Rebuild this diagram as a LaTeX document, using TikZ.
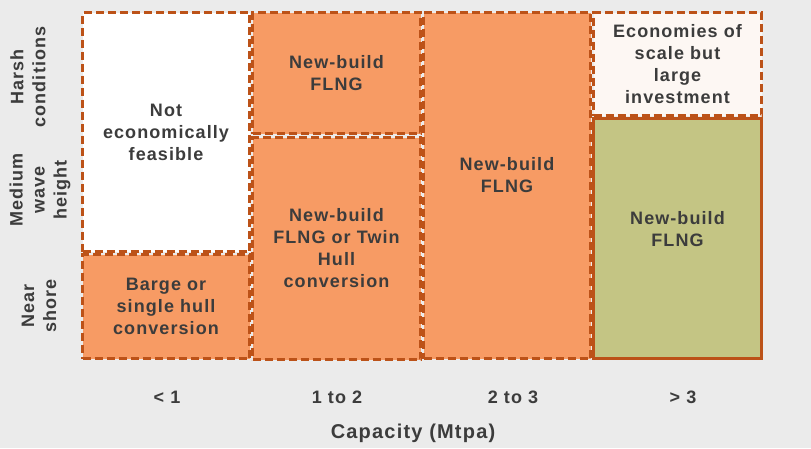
\documentclass[tikz,border=0pt]{standalone}
\usepackage{fontspec}
\setmainfont{Liberation Sans}[LetterSpace=6]
\usetikzlibrary{positioning}

\definecolor{bgGray}{HTML}{EBEBEB}
\definecolor{rimBrown}{HTML}{BC5218}
\definecolor{cellOrange}{HTML}{F79B64}
\definecolor{cellOlive}{HTML}{C4C584}
\definecolor{cellCream}{HTML}{FDF7F3}
\definecolor{inkGray}{HTML}{3C3C3C}

\tikzset{
  cellbox/.style={draw=rimBrown, line width=3.4pt, dash pattern=on 8pt off 4pt,
                  fill=#1, inner sep=0pt, outer sep=0pt, align=center,
                  text=inkGray, font=\fontsize{18}{22}\selectfont\bfseries},
  celltext/.style={text=inkGray, align=center, font=\fontsize{18}{22}\selectfont\bfseries},
  axislabel/.style={text=inkGray, align=center, font=\fontsize{18}{22}\selectfont\bfseries}
}

\begin{document}
\begin{tikzpicture}[x=1pt,y=-1pt]

\useasboundingbox[fill=bgGray] (0,0) rectangle (811,448); % Background

% Cells of the grid
\node[cellbox=white, minimum width=167pt, minimum height=239pt] (notfeasible) at (166,132)
  {Not\\economically\\feasible};
\node[cellbox=cellOrange, minimum width=167pt, minimum height=104pt] (barge) at (166,306.5)
  {Barge or\\single hull\\conversion};
\node[cellbox=cellOrange, minimum width=168pt, minimum height=121pt] (harshnew) at (336.5,73)
  {New-build\\FLNG};
\node[cellbox=cellOrange, minimum width=168pt, minimum height=222pt] (twinhull) at (336.5,248.5)
  {New-build\\FLNG or Twin\\Hull\\conversion};
\node[cellbox=cellOrange, minimum width=167pt, minimum height=346pt,
      label={[celltext, yshift=10pt]center:New-build\\FLNG}] (midnew) at (507,185.5) {};
\node[cellbox=cellCream, minimum width=168pt, minimum height=103pt] (scale) at (677.5,64)
  {Economies of\\scale but\\large\\investment};
\node[cellbox=cellOlive, solid, minimum width=168pt, minimum height=240pt,
      label={[celltext, yshift=9pt]center:New-build\\FLNG}] (bignew) at (677.5,238.5) {};

% Row labels
\node[axislabel, rotate=90] (harsh) at (28,77) {Harsh\\conditions};
\node[axislabel, rotate=90] (medium) at (40,190) {Medium\\wave\\height};
\node[axislabel, rotate=90] (near) at (39,306) {Near\\shore};

% Column labels
\foreach \x/\lbl [count=\i] in {167/{< 1}, 337/{1 to 2}, 513/{2 to 3}, 683/{> 3}}
  \node[axislabel] (cap-\i) at (\x,397) {\lbl};

\node[axislabel, font=\fontsize{20}{24}\selectfont\bfseries] (capacity) at (413,433) {Capacity (Mtpa)};

\end{tikzpicture}
\end{document}
